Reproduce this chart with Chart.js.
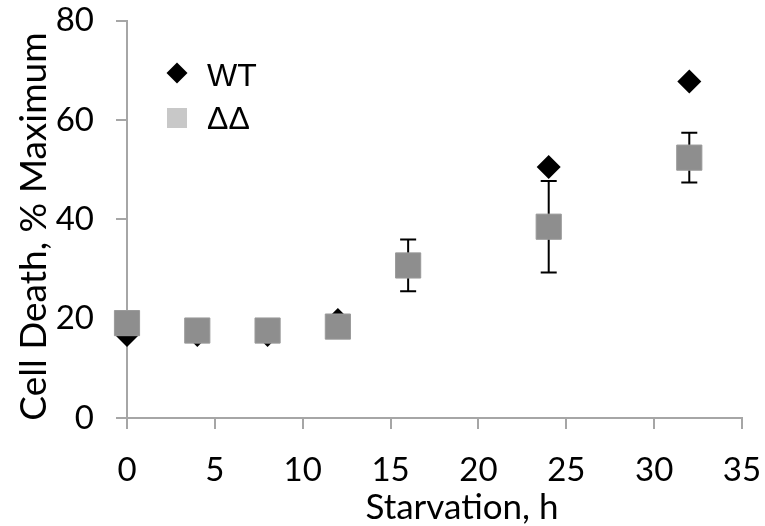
<!DOCTYPE html>
<html>
<head>
<meta charset="utf-8">
<script src="https://cdn.jsdelivr.net/npm/chart.js@4.4.0/dist/chart.umd.min.js"></script>
<style>
    html, body { margin: 0; padding: 0; background: #fff; }
    #wrap { width: 765px; height: 526px; }
</style>
</head>
<body>
<div id="wrap"><canvas id="deathChart"></canvas></div>
<script>
// starvation time points (h) and cell death (% of maximum)
const hours = [0, 4, 8, 12, 16, 24, 32];
const wtDeath = [16.7, 16.7, 16.7, 19.7, 30.7, 50.5, 67.7];
const ddDeath = [19.1, 17.6, 17.6, 18.4, 30.7, 38.5, 52.4];
const ddError = [1.5, 1.0, 1.0, 1.2, 5.2, 9.2, 5.0];
const seriesNames = ['WT', 'ΔΔ'];
const xTicks = [0, 5, 10, 15, 20, 25, 30, 35];
const yTicks = [0, 20, 40, 60, 80];
const xTitle = 'Starvation, h';
const yTitle = 'Cell Death, % Maximum';

const axisColor = '#a6a6a6';
const labelFont = 'Lato, "Open Sans", sans-serif';

// error bars go under the markers so the squares hide the middle of each bar
const errorBars = {
    id: 'errorBars',
    beforeDatasetsDraw(chart) {
        const { ctx, scales: { x, y } } = chart;
        ctx.save();
        ctx.strokeStyle = '#000';
        ctx.lineWidth = 2;
        hours.forEach((h, i) => {
            const px = x.getPixelForValue(h);
            const top = y.getPixelForValue(ddDeath[i] + ddError[i]);
            const bot = y.getPixelForValue(ddDeath[i] - ddError[i]);
            ctx.beginPath();
            ctx.moveTo(px, top); ctx.lineTo(px, bot);
            ctx.moveTo(px - 8, top); ctx.lineTo(px + 8, top);
            ctx.moveTo(px - 8, bot); ctx.lineTo(px + 8, bot);
            ctx.stroke();
        });
        ctx.restore();
    }
};

// axis titles and the in-plot legend
const annotations = {
    id: 'annotations',
    afterDraw(chart) {
        const { ctx, chartArea } = chart;
        ctx.save();
        ctx.fillStyle = '#000';
        ctx.textAlign = 'center';
        ctx.textBaseline = 'alphabetic';
        ctx.font = '35px ' + labelFont;
        ctx.fillText(xTitle, chartArea.left + 335, 519);

        ctx.font = '37px ' + labelFont;
        ctx.translate(46, chartArea.top + 206);
        ctx.rotate(-Math.PI / 2);
        ctx.fillText(yTitle, 0, 0);
        ctx.restore();

        // legend
        ctx.save();
        const lx = chartArea.left + 50;
        ctx.fillStyle = '#000';
        ctx.beginPath();
        ctx.moveTo(lx - 10.5, 73);
        ctx.lineTo(lx, 62.5);
        ctx.lineTo(lx + 10.5, 73);
        ctx.lineTo(lx, 83.5);
        ctx.closePath();
        ctx.fill();
        ctx.fillStyle = '#c8c8c8';
        ctx.fillRect(lx - 10, 108, 20, 20);

        ctx.fillStyle = '#000';
        ctx.font = '32px "Liberation Sans", Arial, sans-serif';
        ctx.textAlign = 'left';
        ctx.textBaseline = 'alphabetic';
        ctx.fillText(seriesNames[0], lx + 30, 86);
        ctx.fillText(seriesNames[1], lx + 30, 129);
        ctx.restore();
    }
};

const ctx = document.getElementById('deathChart').getContext('2d');
new Chart(ctx, {
    type: 'scatter',
    data: {
        datasets: [
            {
                label: seriesNames[1],
                data: hours.map((h, i) => ({ x: h, y: ddDeath[i] })),
                pointStyle: 'rect',
                pointRadius: 17.8,
                backgroundColor: '#8e8e8e',
                borderColor: '#9a9a9a',
                borderWidth: 1,
                clip: false
            },
            {
                label: seriesNames[0],
                data: hours.map((h, i) => ({ x: h, y: wtDeath[i] })),
                pointStyle: 'rectRot',
                pointRadius: 12,
                backgroundColor: '#000',
                borderColor: '#000',
                borderWidth: 0,
                clip: false
            }
        ]
    },
    options: {
        responsive: true,
        maintainAspectRatio: false,
        animation: false,
        layout: { padding: { top: 20.5, right: 23, left: 0, bottom: 0 } },
        plugins: {
            legend: { display: false },
            tooltip: { enabled: false }
        },
        scales: {
            x: {
                type: 'linear',
                min: 0,
                max: 35,
                afterFit: scale => {
                    scale.height = 108;
                    scale.paddingLeft = 0;
                    scale.paddingRight = 0;
                },
                afterBuildTicks: scale => { scale.ticks = xTicks.map(v => ({ value: v })); },
                ticks: { color: '#000', font: { family: labelFont, size: 33 }, padding: 22 },
                grid: { drawOnChartArea: false, tickLength: 11, color: axisColor, lineWidth: 2 },
                border: { color: axisColor, width: 2 }
            },
            y: {
                min: 0,
                max: 80,
                afterFit: scale => {
                    scale.width = 127;
                    scale.paddingTop = 0;
                    scale.paddingBottom = 0;
                },
                afterBuildTicks: scale => { scale.ticks = yTicks.map(v => ({ value: v })); },
                ticks: { color: '#000', font: { family: labelFont, size: 33 }, padding: 22 },
                grid: { drawOnChartArea: false, tickLength: 11, color: axisColor, lineWidth: 2 },
                border: { color: axisColor, width: 2 }
            }
        }
    },
    plugins: [errorBars, annotations]
});
</script>
</body>
</html>
